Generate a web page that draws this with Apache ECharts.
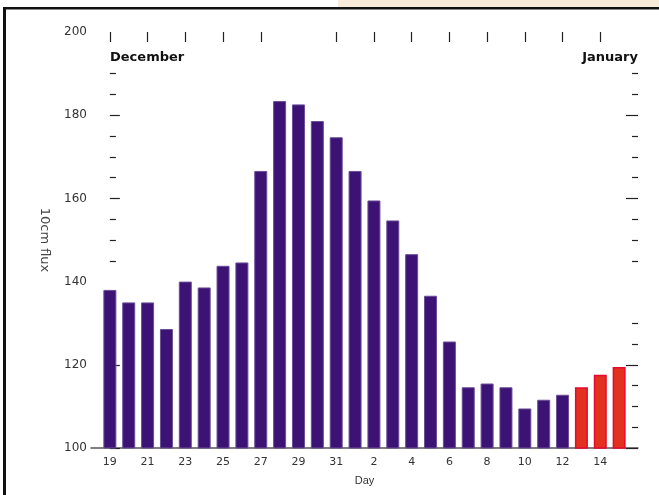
<!DOCTYPE html>
<html>
<head>
<meta charset="utf-8">
<script src="https://cdn.jsdelivr.net/npm/echarts@6/dist/echarts.min.js"></script>
<style>html,body{margin:0;padding:0;background:#fff;}#c{width:659px;height:495px;}</style>
</head>
<body>
<div id="c"></div>
<script>
// Days (Dec 19 .. Jan 15)
const days = [19,20,21,22,23,24,25,26,27,28,29,30,31,1,2,3,4,5,6,7,8,9,10,11,12,13,14,15];
// 10cm flux, observed
const observedFlux = [138,135,135,128.6,140,138.6,143.8,144.6,166.6,183.4,182.6,178.6,174.7,166.6,159.5,154.7,146.6,136.6,125.6,114.6,115.5,114.6,109.5,111.6,112.8];
// 10cm flux, forecast (last days)
const forecastFlux = [114.6,117.6,119.5];
// axis labels / ticks
const xLabelDays = [19,21,23,25,27,29,31,2,4,6,8,10,12,14];
const topTickDays = [19,21,23,25,27,31,2,4,6,8,10,12,14];
const yLabels = [100,120,140,160,180,200];
const yMajorTicks = [100,120,160,180];
const yMinorTicks = [105,110,115,125,130,145,150,155,165,170,175,185,190];

function idxOf(d, first) {
  // December days come first, January afterwards
  for (let i = 0; i < days.length; i++) {
    if (days[i] === d && (first ? i < 13 : i >= 13)) return i;
  }
  return days.indexOf(d);
}
const xLabelIdx = xLabelDays.map((d, k) => idxOf(d, k < 7));
const topTickIdx = topTickDays.map((d, k) => idxOf(d, k < 6));

const purple = {color:'#3c1374', borderColor:'#6a4e98', borderWidth:1};
const red = {color:'#e2321f', borderColor:'#e8082e', borderWidth:1.5};
const barData = observedFlux.map((v,i)=>({value:[i,v], itemStyle:purple}))
  .concat(forecastFlux.map((v,k)=>({value:[observedFlux.length+k,v], itemStyle:red})));

const font = 'DejaVu Sans';
const tickStyle = {color:'#222', width:1.2};

const chart = echarts.init(document.getElementById('c'), null, {renderer:'canvas'});
chart.setOption({
  animation:false,
  backgroundColor:'#ffffff',
  grid:{left:91, top:32, width:547, height:416, containLabel:false},
  xAxis:[{
    type:'value', min:-1, max:28, position:'bottom',
    splitLine:{show:false},
    axisLine:{show:true, lineStyle:{color:'#555', width:1.5}},
    axisTick:{show:false},
    axisLabel:{customValues:xLabelIdx, formatter:(v)=>String(days[v]), color:'#333', fontSize:11, fontFamily:font, margin:9},
    name:'Day', nameLocation:'middle', nameGap:27,
    nameTextStyle:{color:'#333', fontSize:11, fontFamily:'Liberation Sans'}
  },{
    type:'value', min:-1, max:28, position:'top',
    splitLine:{show:false}, axisLine:{show:false},
    axisTick:{show:true, inside:true, length:10, customValues:topTickIdx, lineStyle:tickStyle},
    axisLabel:{show:false}
  }],
  yAxis:[{
    type:'value', min:100, max:200, position:'left', offset:0,
    splitLine:{show:false}, axisLine:{show:false},
    axisTick:{show:true, inside:true, length:10, customValues:yMajorTicks, lineStyle:tickStyle},
    axisLabel:{customValues:yLabels, color:'#333', fontSize:12, fontFamily:font, margin:4},
    name:'10cm flux', nameLocation:'middle', nameRotate:-90, nameGap:40,
    nameTextStyle:{color:'#444', fontSize:13, fontFamily:font}
  },{
    type:'value', min:100, max:200, position:'left', offset:0,
    splitLine:{show:false}, axisLine:{show:false},
    axisTick:{show:true, inside:true, length:6, customValues:yMinorTicks, lineStyle:tickStyle},
    axisLabel:{show:false}
  },{
    type:'value', min:100, max:200, position:'right', offset:0,
    splitLine:{show:false}, axisLine:{show:false},
    axisTick:{show:true, inside:true, length:12, customValues:yMajorTicks, lineStyle:tickStyle},
    axisLabel:{show:false}
  },{
    type:'value', min:100, max:200, position:'right', offset:0,
    splitLine:{show:false}, axisLine:{show:false},
    axisTick:{show:true, inside:true, length:6, customValues:yMinorTicks, lineStyle:tickStyle},
    axisLabel:{show:false}
  }],
  series:[{
    type:'bar', xAxisIndex:0, yAxisIndex:0,
    barWidth:13, data:barData
  }],
  graphic:[
    {type:'rect', shape:{x:338, y:0, width:321, height:7}, style:{fill:'#f8ebd9'}, silent:true},
    {type:'rect', shape:{x:3, y:7, width:656, height:2}, style:{fill:'#111'}, silent:true},
    {type:'rect', shape:{x:3, y:9, width:656, height:1}, style:{fill:'#888'}, silent:true},
    {type:'rect', shape:{x:3, y:7, width:3, height:488}, style:{fill:'#111'}, silent:true},
    {type:'text', x:110, y:58, style:{text:'December', fill:'#111', font:'bold 13px "DejaVu Sans"', textAlign:'left', textVerticalAlign:'middle'}},
    {type:'text', x:638, y:58, style:{text:'January', fill:'#111', font:'bold 13px "DejaVu Sans"', textAlign:'right', textVerticalAlign:'middle'}}
  ]
});
</script>
</body>
</html>
